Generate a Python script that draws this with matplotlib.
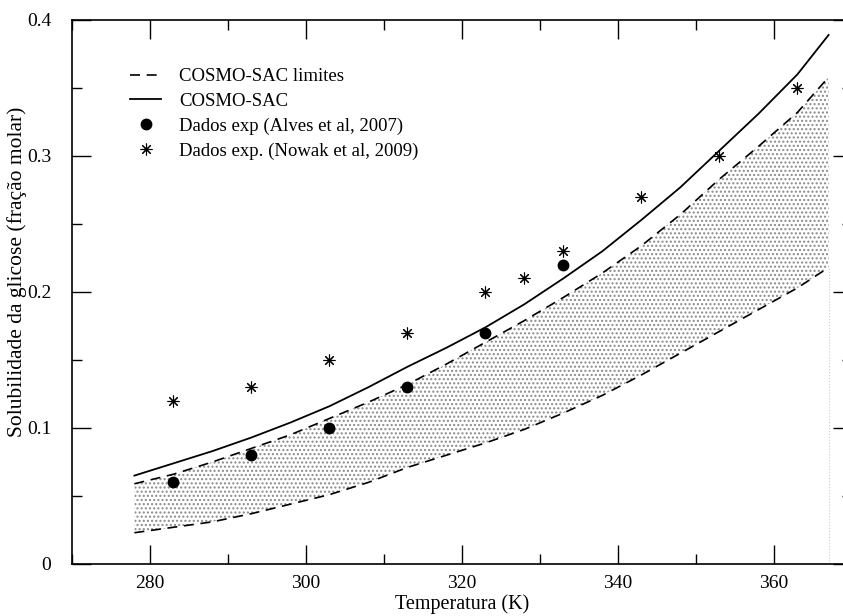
import matplotlib
matplotlib.use("Agg")
import matplotlib.pyplot as plt
from matplotlib.ticker import MultipleLocator, FixedLocator, FixedFormatter

plt.rcParams['font.family'] = ['Liberation Serif', 'DejaVu Serif']
plt.rcParams['hatch.color'] = '#8a8a8a'
plt.rcParams['hatch.linewidth'] = 1.0

temp = [278, 283, 288, 293, 298, 303, 308, 313, 318, 323,
        328, 333, 338, 343, 348, 353, 358, 363, 367]
cosmo = [0.065, 0.074, 0.083, 0.093, 0.104, 0.116, 0.130, 0.145, 0.159, 0.174,
         0.191, 0.210, 0.230, 0.253, 0.277, 0.304, 0.331, 0.360, 0.389]
lim_upper = [0.059, 0.066, 0.075, 0.085, 0.095, 0.107, 0.119, 0.132, 0.147, 0.163,
             0.179, 0.196, 0.214, 0.234, 0.257, 0.283, 0.307, 0.332, 0.358]
lim_lower = [0.023, 0.027, 0.031, 0.037, 0.044, 0.051, 0.060, 0.071, 0.080, 0.089,
             0.099, 0.111, 0.124, 0.139, 0.155, 0.171, 0.187, 0.203, 0.218]

# experimental data
alves_t = [283, 293, 303, 313, 323, 333]
alves_x = [0.06, 0.08, 0.10, 0.13, 0.17, 0.22]
nowak_t = [283, 293, 303, 313, 323, 328, 333, 343, 353, 363]
nowak_x = [0.12, 0.13, 0.15, 0.17, 0.20, 0.21, 0.23, 0.27, 0.30, 0.35]

xticks = [280, 300, 320, 340, 360]
yticks = [0, 0.1, 0.2, 0.3, 0.4]
ytick_labels = ['0', '0.1', '0.2', '0.3', '0.4']

fig = plt.figure(figsize=(8.43, 6.16), dpi=100)
# axes runs past the right edge of the picture, like the original export
ax = fig.add_axes([72 / 843, 52 / 616, 780 / 843, 544 / 616])

ax.fill_between(temp, lim_lower, lim_upper, facecolor='white',
                hatch='....', edgecolor='#8a8a8a', linewidth=0)
ax.vlines(temp[-1], 0, lim_lower[-1], colors='#cccccc', linestyles=':', linewidth=0.8)

ax.plot(temp, lim_upper, color='black', lw=1.2, dashes=(6, 4), label='COSMO-SAC limites')
ax.plot(temp, lim_lower, color='black', lw=1.2, dashes=(6, 4))
ax.plot(temp, cosmo, color='black', lw=1.3, label='COSMO-SAC')
ax.plot(alves_t, alves_x, 'o', color='black', ms=7.5, ls='none',
        label='Dados exp (Alves et al, 2007)')
ax.plot(nowak_t, nowak_x, marker=(8, 2, 0), color='black', ms=8.5, mew=0.8, ls='none',
        label='Dados exp. (Nowak et al, 2009)')

ax.set_xlim(270, 370)
ax.set_ylim(0, 0.4)
ax.xaxis.set_major_locator(FixedLocator(xticks))
ax.xaxis.set_minor_locator(MultipleLocator(10))
ax.yaxis.set_major_locator(FixedLocator(yticks))
ax.yaxis.set_major_formatter(FixedFormatter(ytick_labels))
ax.yaxis.set_minor_locator(MultipleLocator(0.05))
ax.tick_params(which='both', direction='in', top=True, right=True, labelsize=14, width=1.0)
ax.tick_params(which='major', length=14)
ax.tick_params(which='minor', length=7)
ax.tick_params(axis='x', pad=8)
ax.tick_params(axis='y', pad=15)
for s in ax.spines.values():
    s.set_linewidth(1.2)

ax.set_xlabel('Temperatura (K)', fontsize=14.5)
ax.xaxis.set_label_coords(0.5, -0.055)
ax.set_ylabel('Solubilidade da glicose (fração molar)', fontsize=15.5)
ax.yaxis.set_label_coords(-0.0575, 0.537)

ax.legend(loc='upper left', bbox_to_anchor=(0.065, 0.925), frameon=False, fontsize=13.5,
          handlelength=1.66, handletextpad=0.93, labelspacing=0.4, borderaxespad=0)

fig.savefig('out.png', dpi=100)
